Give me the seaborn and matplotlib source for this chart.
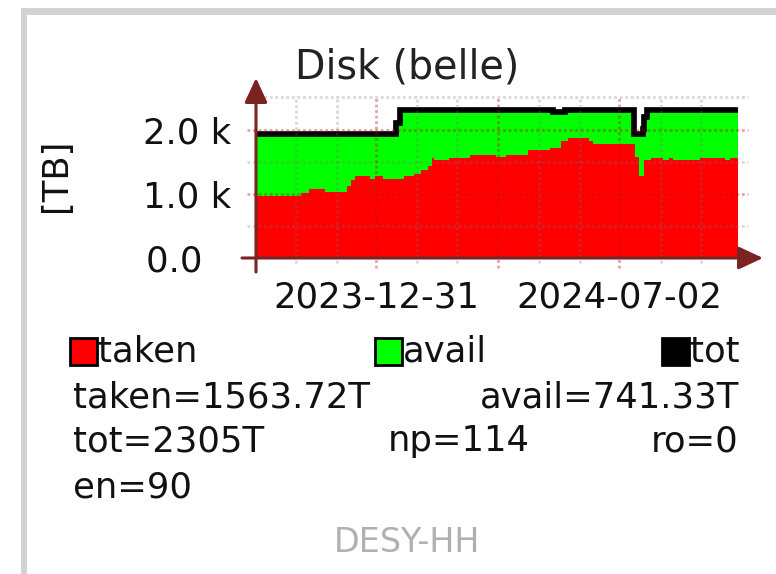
import matplotlib
matplotlib.use("Agg")
import matplotlib.pyplot as plt
import matplotlib.dates as mdates
from matplotlib.patches import Rectangle
import seaborn as sns
import pandas as pd
import numpy as np

# ---------------- data ----------------
dates = ["2023-10-01", "2023-11-04", "2023-11-10", "2023-11-22", "2023-12-09",
         "2023-12-12", "2023-12-15", "2023-12-26", "2023-12-30", "2024-01-05",
         "2024-01-15", "2024-01-18", "2024-01-21", "2024-01-29", "2024-02-03",
         "2024-02-08", "2024-02-11", "2024-02-13", "2024-02-24", "2024-03-11",
         "2024-03-31", "2024-04-07", "2024-04-24", "2024-05-11", "2024-05-13",
         "2024-05-19", "2024-05-22", "2024-05-24", "2024-06-09", "2024-06-12",
         "2024-07-13", "2024-07-14", "2024-07-17", "2024-07-20", "2024-07-21",
         "2024-07-23", "2024-07-26", "2024-08-04", "2024-08-09", "2024-08-12",
         "2024-09-01", "2024-09-20", "2024-09-24", "2024-09-30"]
taken = [965, 1018, 1070, 1030, 1117, 1220, 1270, 1230, 1270, 1230,
         1230, 1230, 1270, 1310, 1370, 1430, 1560, 1530, 1560, 1610,
         1570, 1610, 1680, 1720, 1720, 1820, 1820, 1875, 1820, 1780,
         1780, 1570, 1280, 1280, 1520, 1530, 1560, 1530, 1560, 1530,
         1560, 1530, 1564, 1564]
tot = [1935, 1935, 1935, 1935, 1935, 1935, 1935, 1935, 1935, 1935,
       2100, 2305, 2305, 2305, 2305, 2305, 2305, 2305, 2305, 2305,
       2305, 2305, 2305, 2305, 2270, 2270, 2305, 2305, 2305, 2305,
       1935, 1935, 1935, 2010, 2200, 2305, 2305, 2305, 2305, 2305,
       2305, 2305, 2305, 2305]

major_dates = ["2023-12-31", "2024-04-01", "2024-07-02"]
minor_dates = ["2023-10-31", "2023-12-01", "2024-01-31", "2024-03-01",
               "2024-05-02", "2024-06-02", "2024-08-03", "2024-09-02"]
xtick_dates = ["2023-12-31", "2024-07-02"]
xtick_labels = ["2023-12-31", "2024-07-02"]
ytick_values = [0, 1000, 2000]
ytick_labels = ["0.0 \u2002", "1.0 k", "2.0 k"]
ymajor_grid = [1000, 2000]
yminor_grid = [500, 1500, 2500]

title = "Disk (belle)"
ylabel = "[TB]"
legend_names = ["taken", "avail", "tot"]
legend_colors = ["#FF0000", "#00FF00", "#000000"]
stats_row2 = ["taken=1563.72T", "avail=741.33T"]
stats_row3 = ["tot=2305T", "np=114", "ro=0"]
stats_row4 = ["en=90"]
footer = "DESY-HH"

# ---------------- layout ----------------
W, H = 776, 574
sns.set_theme(style="white")
plt.rcParams["font.family"] = ["DejaVu Sans"]

fig = plt.figure(figsize=(W / 100, H / 100), dpi=100)
fig.patch.set_facecolor("white")

def fx(px):
    return px / W

def fy(py):
    return 1 - py / H

# axes in pixel frame
L, R, B, T = 240, 762, 275, 80
ax = fig.add_axes([fx(L), fy(B), (R - L) / W, (B - T) / H])
ax.set_facecolor("none")

start = pd.Timestamp(dates[0])
px_per_day = 482 / 365.0
px_per_val = 64.2 / 1000.0
x0 = 256

def dnum(px):
    return mdates.date2num(start + pd.Timedelta(days=(px - x0) / px_per_day))

def vval(py):
    return (258 - py) / px_per_val

ax.set_xlim(dnum(L), dnum(R))
ax.set_ylim(vval(B), vval(T))

df = pd.DataFrame({"date": pd.to_datetime(dates), "taken": taken, "tot": tot})

ax.fill_between(df["date"], 0, df["taken"], step="post", color="#FF0000",
                lw=0, zorder=1)
ax.fill_between(df["date"], df["taken"], df["tot"], step="post",
                color="#00FF00", lw=0, zorder=1)
sns.lineplot(data=df, x="date", y="tot", drawstyle="steps-post",
             color="black", lw=4.1, ax=ax, zorder=2, legend=False)
for ln in ax.lines:
    ln.set_solid_capstyle("butt")
    ln.set_solid_joinstyle("miter")

# grid (drawn over data, like rrdtool)
gx0, gx1 = dnum(247), dnum(748)
minor_col = (0.45, 0.45, 0.45, 0.28)
major_col = (0.75, 0.05, 0.05, 0.38)
ls = (0, (1.0, 1.0))
for v in yminor_grid:
    ax.hlines(v, gx0, gx1, colors=[minor_col], linestyles=[ls], lw=2.0, zorder=3)
for v in ymajor_grid:
    ax.hlines(v, gx0, gx1, colors=[major_col], linestyles=[ls], lw=2.0, zorder=3)
for d in minor_dates:
    ax.vlines(pd.Timestamp(d), vval(263), vval(96), colors=[minor_col],
              linestyles=[ls], lw=2.0, zorder=3)
for d in major_dates:
    ax.vlines(pd.Timestamp(d), vval(268), vval(96), colors=[major_col],
              linestyles=[ls], lw=2.0, zorder=3)

# axes with arrows
axis_col = "#7A2323"
ax.annotate("", xy=(dnum(763), 0), xytext=(dnum(242), 0),
            arrowprops=dict(arrowstyle="-|>,head_length=0.75,head_width=0.35",
                            color=axis_col, lw=2.2, shrinkA=0, shrinkB=0,
                            mutation_scale=20), zorder=5, annotation_clip=False)
ax.annotate("", xy=(dnum(256), vval(78)), xytext=(dnum(256), vval(272)),
            arrowprops=dict(arrowstyle="-|>,head_length=0.75,head_width=0.35",
                            color=axis_col, lw=2.2, shrinkA=0, shrinkB=0,
                            mutation_scale=20), zorder=5, annotation_clip=False)

for s in ax.spines.values():
    s.set_visible(False)
ax.grid(False)
ax.set_xlabel("")
ax.set_ylabel("")

ax.set_xticks([pd.Timestamp(d) for d in xtick_dates])
ax.set_xticklabels(xtick_labels)
ax.set_yticks(ytick_values)
ax.set_yticklabels(ytick_labels)
ax.tick_params(axis="both", length=0, labelsize=25.5, colors="#111111")
ax.tick_params(axis="y", pad=6)
ax.tick_params(axis="x", pad=4)

txt_kw = dict(fontsize=25.5, color="#111111")

# title and y label
fig.text(fx(407), fy(68), title, ha="center", va="center", fontsize=28.5,
         color="#222222")
fig.text(fx(56), fy(175), ylabel, ha="center", va="center", rotation=90,
         **txt_kw)

# grey frame
fig.add_artist(Rectangle((fx(21), 0), 6 / W, fy(8), transform=fig.transFigure,
                         facecolor="#D2D2D2", edgecolor="none"))
fig.add_artist(Rectangle((fx(21), fy(15)), 1 - fx(21), 7 / H,
                         transform=fig.transFigure, facecolor="#D2D2D2",
                         edgecolor="none"))

# legend row
box_x = [70, 375, 662]
text_x = [98, 403, 690]
for bx, tx, name, col in zip(box_x, text_x, legend_names, legend_colors):
    fig.add_artist(Rectangle((fx(bx), fy(365)), 27 / W, 27 / H,
                             transform=fig.transFigure, facecolor=col,
                             edgecolor="black", lw=2))
    fig.text(fx(tx), fy(352), name, ha="left", va="center", **txt_kw)

fig.text(fx(73), fy(397), stats_row2[0], ha="left", va="center", **txt_kw)
fig.text(fx(739), fy(397), stats_row2[1], ha="right", va="center", **txt_kw)
fig.text(fx(73), fy(441), stats_row3[0], ha="left", va="center", **txt_kw)
fig.text(fx(459), fy(441), stats_row3[1], ha="center", va="center", **txt_kw)
fig.text(fx(739), fy(441), stats_row3[2], ha="right", va="center", **txt_kw)
fig.text(fx(73), fy(487), stats_row4[0], ha="left", va="center", **txt_kw)
fig.text(fx(407), fy(542), footer, ha="center", va="center", fontsize=24,
         color="#B0B0B0")

fig.savefig("out.png", dpi=100)
